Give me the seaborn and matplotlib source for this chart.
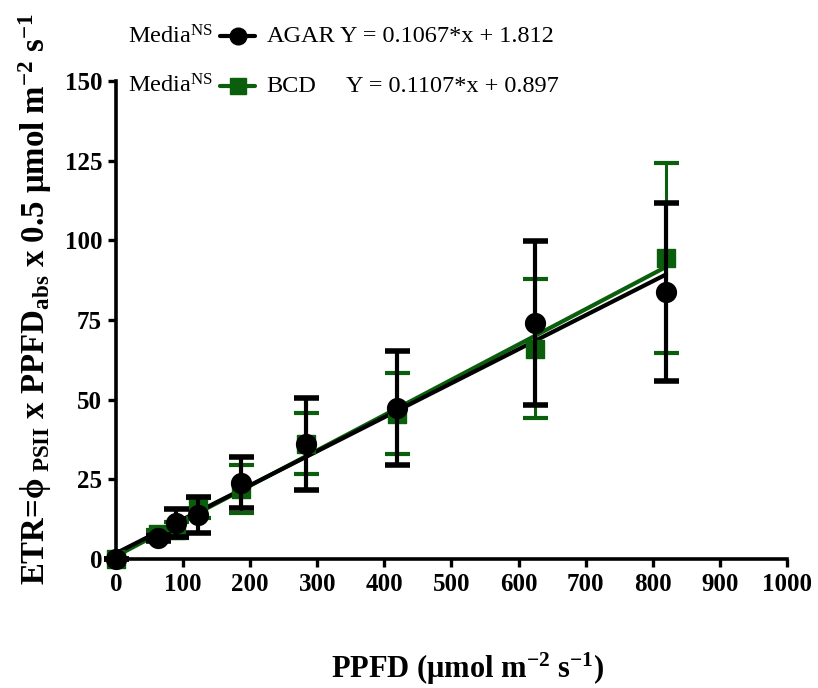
import numpy as np
import pandas as pd
import matplotlib
matplotlib.use("Agg")
import matplotlib.pyplot as plt
from matplotlib.lines import Line2D
import seaborn as sns

# ---- data ----
ppfd = [0, 63, 89, 122, 187, 283, 419, 624, 820]
agar_mean = [0, 6.5, 11.3, 13.8, 24.0, 36.0, 47.4, 74.0, 83.8]
agar_err = [0, 1.0, 4.5, 5.5, 8.0, 14.4, 18.0, 25.7, 28.0]
bcd_mean = [0, 8.0, 9.0, 16.0, 22.0, 36.2, 45.6, 66.0, 94.4]
bcd_err = [0, 1.0, 2.5, 3.0, 7.5, 9.5, 12.7, 21.8, 29.8]
fit_slope = {"AGAR": 0.1067, "BCD": 0.1107}
fit_icpt = {"AGAR": 1.812, "BCD": 0.897}
fit_range = [0, 820]
yticks = [0, 25, 50, 75, 100, 125, 150]
xticks = [0, 100, 200, 300, 400, 500, 600, 700, 800, 900, 1000]

BLACK = "#000000"
GREEN = "#0b5e0b"

sns.set_style("ticks")
plt.rcParams["font.family"] = ["Liberation Serif", "DejaVu Serif"]
plt.rcParams["mathtext.fontset"] = "custom"
plt.rcParams["mathtext.rm"] = "Liberation Serif:bold"
plt.rcParams["mathtext.bf"] = "Liberation Serif:bold"
plt.rcParams["mathtext.it"] = "Liberation Serif:bold:italic"
for k in ["text.color", "axes.labelcolor", "xtick.color", "ytick.color", "axes.edgecolor"]:
    plt.rcParams[k] = "black"

fig = plt.figure(figsize=(8.18, 6.88), dpi=100)
ax = fig.add_axes([0.1418, 0.1875, 0.8202, 0.6948])

df = pd.DataFrame({"x": ppfd * 2,
                   "y": agar_mean + bcd_mean,
                   "err": agar_err + bcd_err,
                   "media": ["AGAR"] * len(ppfd) + ["BCD"] * len(ppfd)})

# regression lines
lines = []
for m in ["BCD", "AGAR"]:
    for xv in fit_range:
        lines.append({"x": xv, "y": fit_slope[m] * xv + fit_icpt[m], "media": m})
ldf = pd.DataFrame(lines)
sns.lineplot(data=ldf[ldf.media == "BCD"], x="x", y="y", color=GREEN, lw=3.0, ax=ax, zorder=2)
sns.lineplot(data=ldf[ldf.media == "AGAR"], x="x", y="y", color=BLACK, lw=3.0, ax=ax, zorder=3)

# error bars + markers
b = df[df.media == "BCD"]
a = df[df.media == "AGAR"]
ax.errorbar(b.x, b.y, yerr=b.err, fmt="none", ecolor=GREEN, elinewidth=2.2,
            capsize=9, capthick=3.0, zorder=4, clip_on=False)
sns.scatterplot(data=b, x="x", y="y", marker="s", s=150, color=GREEN,
                edgecolor=GREEN, ax=ax, zorder=5, clip_on=False)
ax.errorbar(a.x, a.y, yerr=a.err, fmt="none", ecolor=BLACK, elinewidth=3.0,
            capsize=9, capthick=4.0, zorder=6, clip_on=False)
sns.scatterplot(data=a, x="x", y="y", marker="o", s=200, color=BLACK,
                edgecolor=BLACK, ax=ax, zorder=7, clip_on=False)

ax.set_xlim(0, 1000)
ax.set_ylim(0, 150)
ax.set_xticks(xticks)
ax.set_yticks(yticks)
ax.set_xticklabels([str(t) for t in xticks], fontsize=18, fontweight="bold")
ax.set_yticklabels([str(t) for t in yticks], fontsize=18, fontweight="bold")
ax.tick_params(axis="both", width=2.4, length=6, direction="out", pad=4, colors="black")
for s in ["left", "bottom"]:
    ax.spines[s].set_linewidth(2.6)
    ax.spines[s].set_color("black")
sns.despine(ax=ax)
ax.set_xlabel("")
ax.set_ylabel("")
if ax.get_legend():
    ax.get_legend().remove()

fig.text(0.572, 0.028, r"PPFD ($\mathregular{\mu}$mol m$^{-2}$ s$^{-1}$)",
         fontsize=22, fontweight="bold", ha="center", va="center", color="black")
fig.text(0.043, 0.565,
         "ETR=\u03d5" + r"$_{\ \mathrm{PSII}}$ x PPFD$_{\mathrm{abs}}$ x 0.5 $\mathregular{\mu}$mol m$^{-2}$ s$^{-1}$",
         fontsize=23.7, fontweight="bold", ha="center", va="center", rotation=90,
         color="black", family=["Liberation Serif", "DejaVu Serif"])

# custom legend
rows = [("AGAR", "Y = 0.1067*x + 1.812", BLACK, "o", 0.947, 0.4156),
        ("BCD", "Y = 0.1107*x + 0.897", GREEN, "s", 0.875, 0.423)]
for name, eq, col, mk, yy, xeq in rows:
    fig.text(0.156, yy, r"Media$^{\mathregular{NS}}$", fontsize=17.5, ha="left", va="center")
    fig.add_artist(Line2D([0.269, 0.312], [yy, yy], transform=fig.transFigure,
                          color=col, lw=3))
    fig.add_artist(Line2D([0.2905], [yy], transform=fig.transFigure, color=col,
                          marker=mk, markersize=12 if mk == "o" else 11, lw=0))
    fig.text(0.326, yy, name, fontsize=17.5, ha="left", va="center")
    fig.text(xeq, yy, eq, fontsize=17.5, ha="left", va="center")

fig.savefig("out.png", dpi=100)
